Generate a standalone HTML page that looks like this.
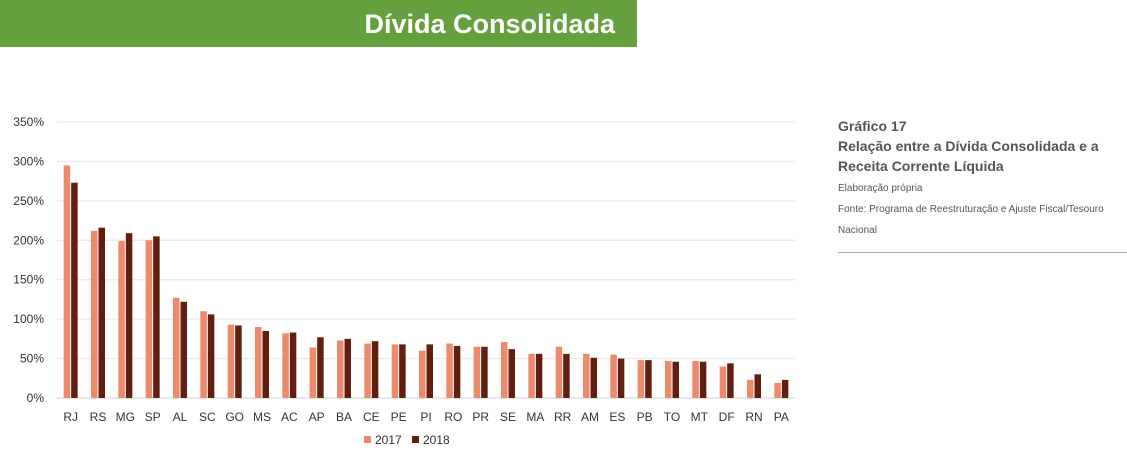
<!DOCTYPE html>
<html><head><meta charset="utf-8"><style>
body{margin:0;width:1127px;height:454px;background:#fff;font-family:"Liberation Sans",sans-serif;position:relative;overflow:hidden}
#hdr{position:absolute;left:0;top:0;width:637px;height:47px;background:#64a03c}
#hdr span{position:absolute;right:22px;top:9px;color:#fff;font-weight:bold;font-size:27px}
#side{position:absolute;left:838px;top:116px;width:289px;color:#555}
.t{font-weight:bold;font-size:14px;line-height:20px}
.s{font-size:10px;line-height:21px}
#rule{position:absolute;left:838px;top:252px;width:289px;height:1px;background:#aaa}
</style></head><body>
<div id="hdr"><span>Dívida Consolidada</span></div>
<div id="side">
<div class="t">Gráfico 17</div>
<div class="t">Relação entre a Dívida Consolidada e a Receita Corrente Líquida</div>
<div class="s" style="margin-top:2px">Elaboração própria</div>
<div class="s">Fonte: Programa de Reestruturação e Ajuste Fiscal/Tesouro Nacional</div>
</div>
<div id="rule"></div>
<svg id="chart" width="1127" height="454" style="position:absolute;left:0;top:0"></svg>
<script>
const categories=["RJ","RS","MG","SP","AL","SC","GO","MS","AC","AP","BA","CE","PE","PI","RO","PR","SE","MA","RR","AM","ES","PB","TO","MT","DF","RN","PA"];
const s2017=[295,212,199,200,127,110,93,90,82,64,73,69,68,60,69,65,71,56,65,56,55,48,47,47,40,23,19];
const s2018=[273,216,209,205,122,106,92,85,83,77,75,72,68,68,66,65,62,56,56,51,50,48,46,46,44,30,23];
const ticks=[0,50,100,150,200,250,300,350];
const NS="http://www.w3.org/2000/svg",svg=document.getElementById('chart');
const x0=57,x1=795,y0=398,y1=122,ymax=350;
const bw=(x1-x0)/categories.length;
const y=v=>y0-(v/ymax)*(y0-y1);
const xc=i=>x0+bw*(i+0.5);
function mk(t,a){const e=document.createElementNS(NS,t);for(const k in a)e.setAttribute(k,a[k]);svg.appendChild(e);return e;}
ticks.forEach(t=>{
const g=mk('line',{x1:x0,x2:x1,y1:y(t),y2:y(t),stroke:t?'#e6e6e6':'#d0d0d0','stroke-width':1});


const l=mk('text',{x:44,y:y(t)+4,'text-anchor':'end','font-size':12,fill:'#333'});l.textContent=t+'%';


});
categories.forEach((c,i)=>{
const a=mk('rect',{x:xc(i)-7,y:y(s2017[i]),width:6.5,height:y0-y(s2017[i]),fill:'#ec8a6b'});


const b=mk('rect',{x:xc(i)+0.5,y:y(s2018[i]),width:6.5,height:y0-y(s2018[i]),fill:'#631f0e'});


const l=mk('text',{x:xc(i),y:421,'text-anchor':'middle','font-size':12,fill:'#333'});l.textContent=c;


});
[['2017','#ec8a6b',364],['2018','#631f0e',412]].forEach(([n,col,x])=>{
const r=mk('rect',{x:x,y:436,width:7,height:7,fill:col});


const t=mk('text',{x:x+11,y:444,'font-size':12,fill:'#333'});t.textContent=n;


});
</script>
</body></html>
